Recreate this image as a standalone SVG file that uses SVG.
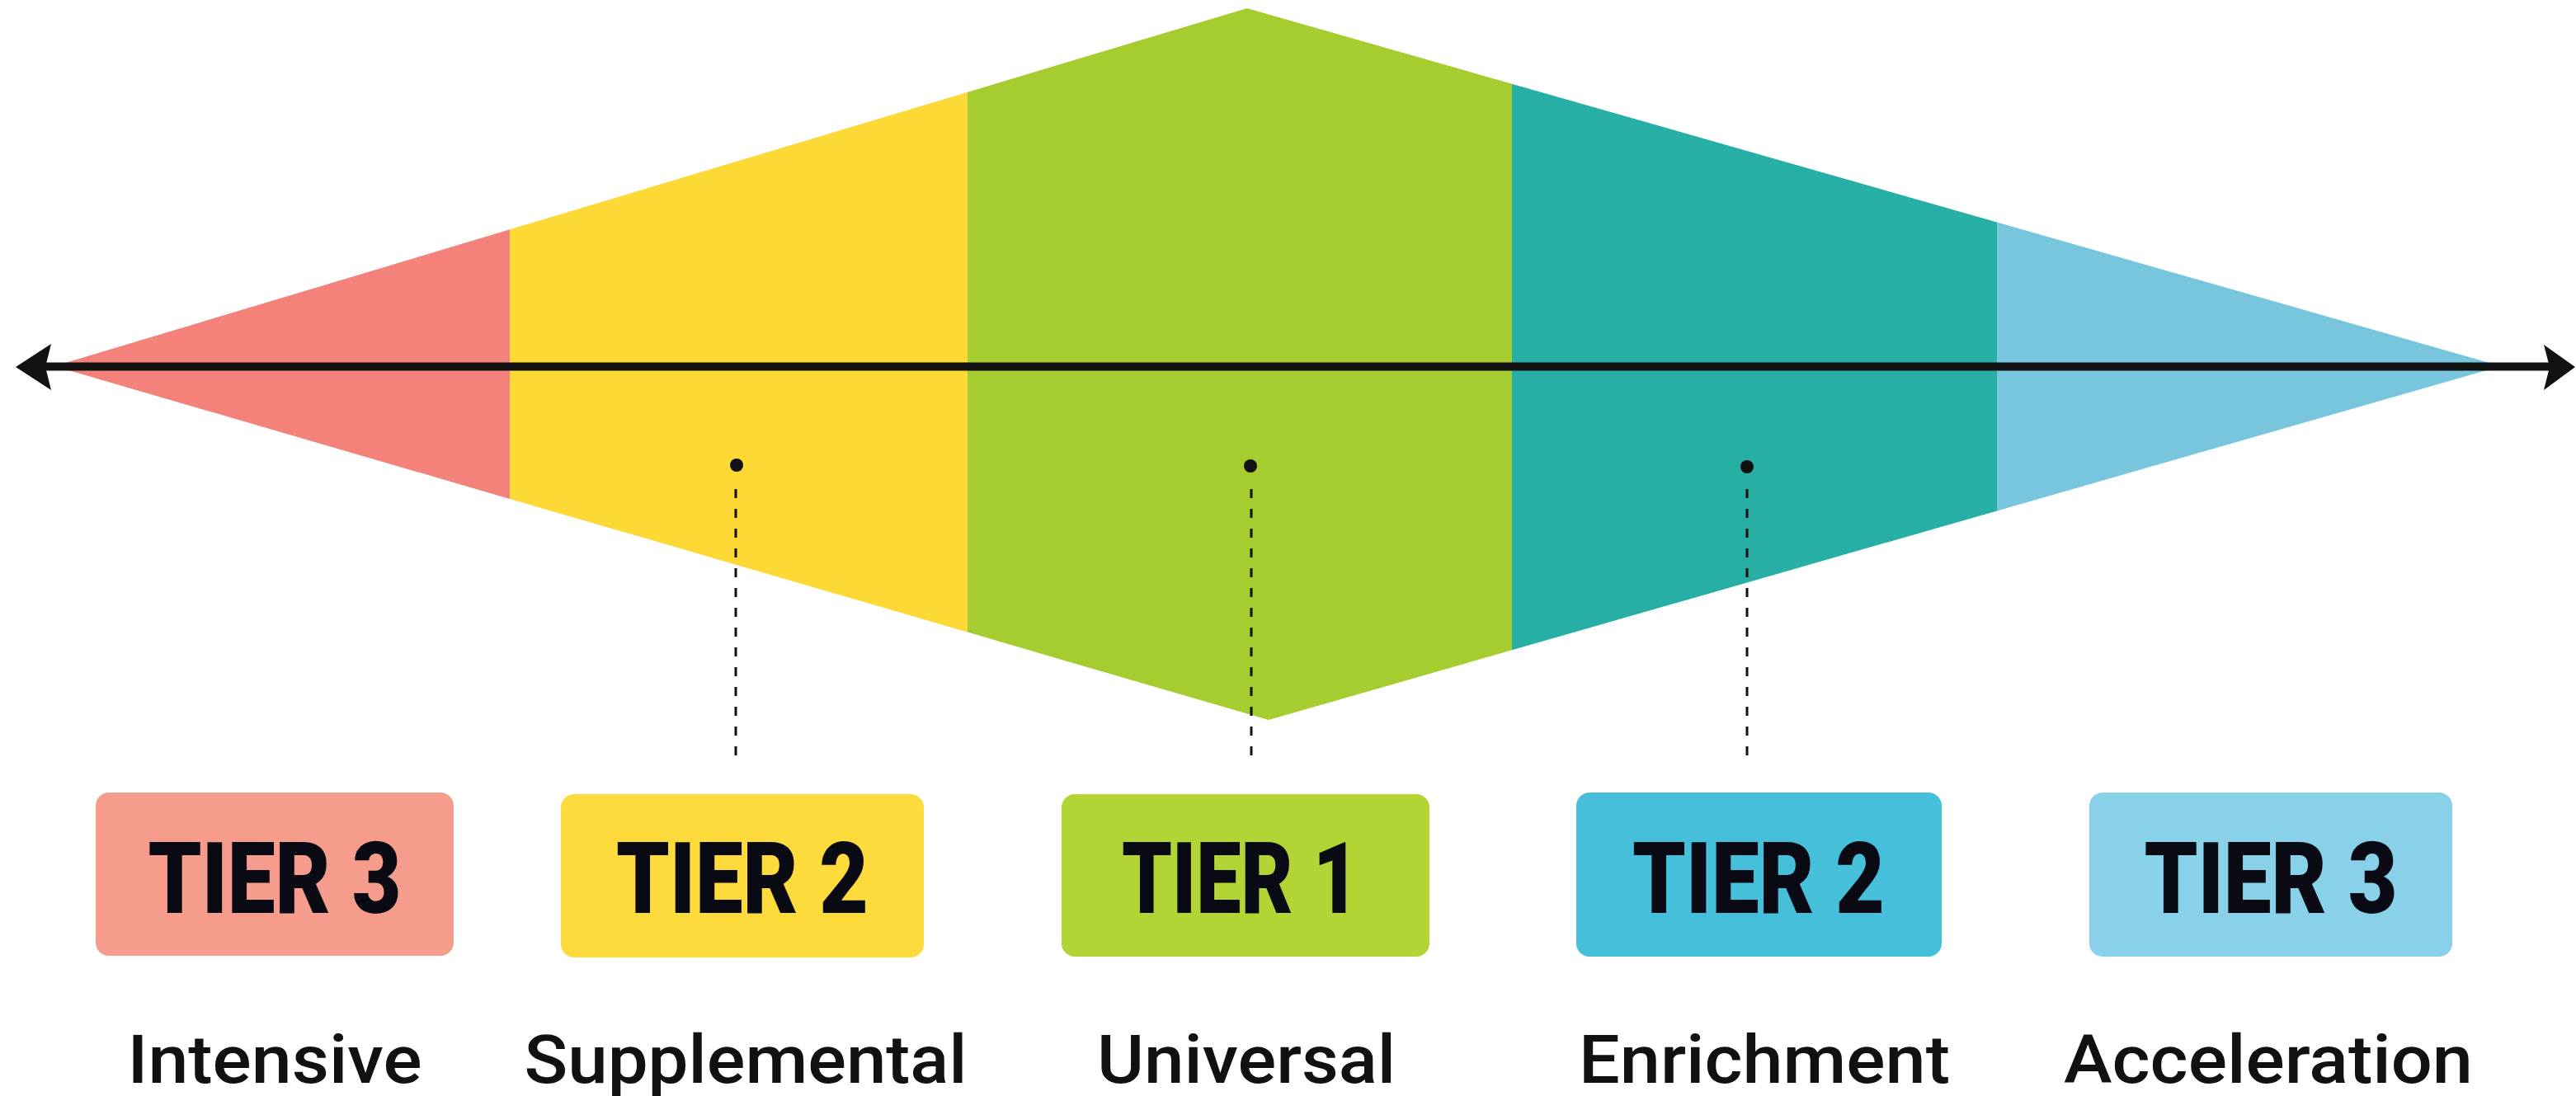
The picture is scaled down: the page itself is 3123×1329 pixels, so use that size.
<svg xmlns="http://www.w3.org/2000/svg" width="3123" height="1329" viewBox="0 0 3123 1329">
<style>
.tier{font-family:Roboto,"Liberation Sans",Arial,sans-serif;font-weight:900;font-size:120px;fill:#0a0a14;text-anchor:middle}
.lbl{font-family:Roboto,"Liberation Sans",Arial,sans-serif;font-weight:500;font-size:82px;fill:#111;text-anchor:middle}
.box{rx:16px}
.dash{stroke:#111;stroke-width:3;stroke-dasharray:11 13;fill:none}
</style>
<rect width="3123" height="1329" fill="#ffffff"/>
<g id="diamond">
<polygon points="66,444 618,278.3 618,604.9" fill="#F4827A"/>
<polygon points="618,278.3 1173,111.7 1173,766.6 618,604.9" fill="#FCD935"/>
<polygon points="1173,111.7 1512,10 1833,101.7 1833,788.3 1538,873 1173,766.6" fill="#A6CD2F"/>
<polygon points="1833,101.7 2421,269.5 2421,619.4 1833,788.3" fill="#27AFA5"/>
<polygon points="2421,269.5 3032,444 2421,619.4" fill="#78C6DD"/>
</g>
<g id="connectors">
<line x1="50" y1="444.5" x2="3095" y2="444.5" stroke="#111" stroke-width="10"/>
<polygon points="19,445 62,417 55,445 62,473" fill="#111"/>
<polygon points="3122,445 3084,418 3091,445 3084,473" fill="#111"/>
<circle cx="893" cy="564" r="8" fill="#111"/>
<line class="dash" x1="892" y1="593" x2="892" y2="922"/>
<circle cx="1516" cy="565" r="8" fill="#111"/>
<line class="dash" x1="1517" y1="593" x2="1517" y2="922"/>
<circle cx="2118" cy="566" r="8" fill="#111"/>
<line class="dash" x1="2118" y1="593" x2="2118" y2="922"/>
</g>
<g id="tier3-intensive">
<rect class="box" x="116" y="961" width="434" height="198" fill="#F59C8D"/>
<text class="tier" x="333" y="1107" textLength="307" lengthAdjust="spacingAndGlyphs">TIER 3</text>
<text class="lbl" x="333" y="1313" textLength="357" lengthAdjust="spacingAndGlyphs">Intensive</text>
</g>
<g id="tier2-supplemental">
<rect class="box" x="680" y="963" width="440" height="198" fill="#FDDB3D"/>
<text class="tier" x="900" y="1107" textLength="306" lengthAdjust="spacingAndGlyphs">TIER 2</text>
<text class="lbl" x="904" y="1313" textLength="537" lengthAdjust="spacingAndGlyphs">Supplemental</text>
</g>
<g id="tier1-universal">
<rect class="box" x="1287" y="963" width="446" height="197" fill="#B2D435"/>
<text class="tier" x="1504" y="1107" textLength="288" lengthAdjust="spacingAndGlyphs">TIER 1</text>
<text class="lbl" x="1511" y="1313" textLength="362" lengthAdjust="spacingAndGlyphs">Universal</text>
</g>
<g id="tier2-enrichment">
<rect class="box" x="1911" y="961" width="443" height="199" fill="#46BFDA"/>
<text class="tier" x="2132" y="1107" textLength="306" lengthAdjust="spacingAndGlyphs">TIER 2</text>
<text class="lbl" x="2139" y="1313" textLength="450" lengthAdjust="spacingAndGlyphs">Enrichment</text>
</g>
<g id="tier3-acceleration">
<rect class="box" x="2533" y="961" width="440" height="199" fill="#88D1E9"/>
<text class="tier" x="2753" y="1107" textLength="307" lengthAdjust="spacingAndGlyphs">TIER 3</text>
<text class="lbl" x="2750" y="1313" textLength="496" lengthAdjust="spacingAndGlyphs">Acceleration</text>
</g>
</svg>
